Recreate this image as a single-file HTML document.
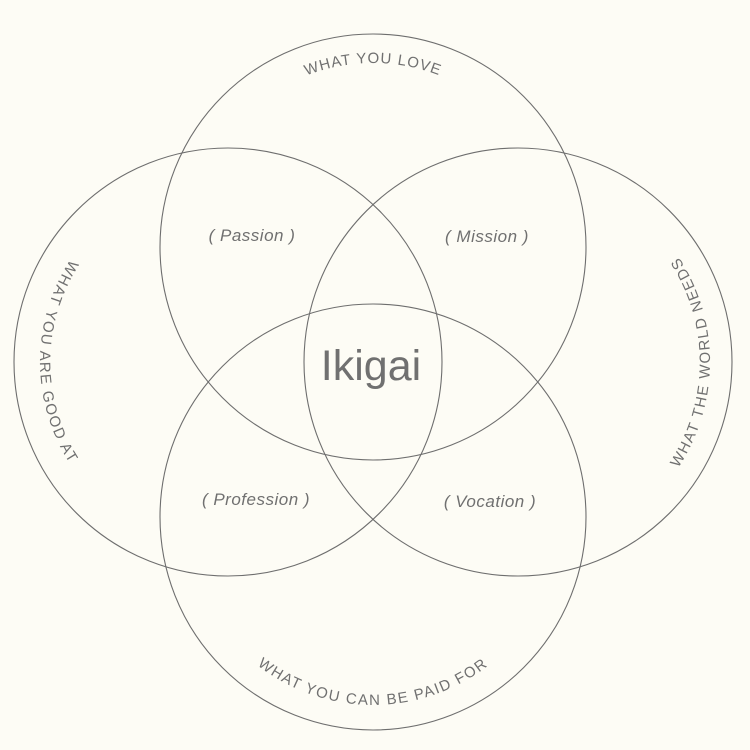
<!DOCTYPE html>
<html><head><style>
html,body{margin:0;padding:0;background:#fdfcf5;}
svg{display:block;}
text{font-family:"Liberation Sans",sans-serif;fill:#707070;}
</style></head><body>
<svg width="750" height="750" viewBox="0 0 750 750">
<rect width="750" height="750" fill="#fdfcf5"/>
<g fill="none" stroke="#6e6e6e" stroke-width="1.1">
<circle cx="373" cy="247" r="213"/>
<circle cx="228" cy="362" r="214"/>
<circle cx="518" cy="362" r="214"/>
<circle cx="373" cy="517" r="213"/>
</g>
<defs>
<path id="pt" d="M 189 247 A 184 184 0 0 1 557 247"/>
<path id="pl" d="M 228 174 A 188 188 0 0 0 228 550"/>
<path id="pr" d="M 518 554 A 192 192 0 0 0 518 170"/>
<path id="pb" d="M 185 517 A 188 188 0 0 0 561 517"/>
</defs>
<g font-size="15" letter-spacing="1">
<text><textPath href="#pt" startOffset="50%" text-anchor="middle">WHAT YOU LOVE</textPath></text>
<text><textPath href="#pl" startOffset="50%" text-anchor="middle" letter-spacing="1.6">WHAT YOU ARE GOOD AT</textPath></text>
<text><textPath href="#pr" startOffset="50%" text-anchor="middle" letter-spacing="1.6">WHAT THE WORLD NEEDS</textPath></text>
<text><textPath href="#pb" startOffset="50%" text-anchor="middle" letter-spacing="1.5">WHAT YOU CAN BE PAID FOR</textPath></text>
</g>
<text x="371" y="380" font-size="43" text-anchor="middle">Ikigai</text>
<g font-size="17" font-style="italic" text-anchor="middle" letter-spacing="0.5">
<text x="252" y="241">( Passion )</text>
<text x="487" y="242">( Mission )</text>
<text x="256" y="505">( Profession )</text>
<text x="490" y="507">( Vocation )</text>
</g>
</svg>
</body></html>
